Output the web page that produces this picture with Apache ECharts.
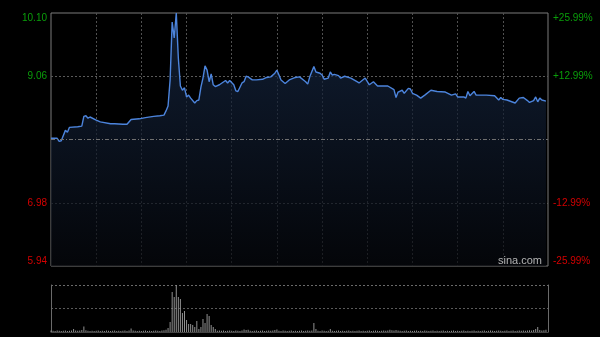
<!DOCTYPE html>
<html>
<head>
<meta charset="utf-8">
<script src="https://cdn.jsdelivr.net/npm/echarts@6/dist/echarts.min.js"></script>
<style>
  html, body { margin: 0; padding: 0; background: #000; }
  #chart { width: 600px; height: 337px; }
</style>
</head>
<body>
<div id="chart"></div>
<script>
// minutes since open (0..242) and last price at that minute
const minutes = [
  0, 3, 4, 5, 7, 8, 9, 13, 15, 16,
  17, 18, 19, 22, 24, 29, 31, 35, 37, 39,
  43, 46, 50, 53, 55, 56, 57, 58, 59, 60,
  61, 62, 63, 64, 65, 66, 67, 68, 70, 71,
  72, 73, 74, 75, 76, 77, 78, 79, 80, 82,
  85, 86, 87, 89, 90, 91, 93, 94, 95, 96,
  98, 100, 103, 105, 107, 109, 110, 111, 112, 114,
  116, 119, 121, 124, 125, 126, 128, 129, 131, 132,
  133, 135, 136, 137, 138, 140, 141, 143, 146, 149,
  150, 153, 155, 157, 159, 164, 167, 168, 169, 171,
  172, 174, 175, 176, 178, 180, 182, 185, 188, 192,
  195, 197, 198, 201, 202, 203, 204, 206, 207, 212,
  216, 218, 219, 220, 222, 226, 228, 230, 232, 233,
  235, 236, 237, 238, 239, 241
];
const prices = [
  8.04, 8.04, 7.99, 8.00, 8.17, 8.14, 8.22, 8.23, 8.24, 8.40,
  8.41, 8.37, 8.39, 8.34, 8.31, 8.28, 8.28, 8.27, 8.27, 8.35,
  8.36, 8.38, 8.40, 8.41, 8.42, 8.49, 8.57, 9.00, 9.95, 9.69,
  10.10, 9.36, 8.90, 8.83, 8.87, 8.72, 8.75, 8.70, 8.62, 8.66,
  8.67, 8.88, 9.03, 9.23, 9.16, 8.97, 9.10, 8.92, 8.89, 8.92,
  8.99, 8.95, 8.99, 8.92, 8.82, 8.81, 8.95, 8.97, 9.06, 9.05,
  9.00, 9.00, 9.01, 9.04, 9.05, 9.11, 9.16, 9.08, 9.00, 8.94,
  9.00, 9.04, 9.05, 8.97, 8.93, 9.05, 9.22, 9.13, 9.11, 9.08,
  9.01, 9.03, 9.13, 9.08, 9.09, 9.07, 9.03, 9.06, 9.03, 8.97,
  8.95, 9.03, 8.92, 8.97, 8.90, 8.90, 8.84, 8.71, 8.80, 8.83,
  8.78, 8.86, 8.85, 8.78, 8.75, 8.70, 8.75, 8.83, 8.81, 8.80,
  8.75, 8.77, 8.72, 8.72, 8.70, 8.81, 8.74, 8.81, 8.75, 8.75,
  8.74, 8.67, 8.71, 8.68, 8.67, 8.62, 8.70, 8.71, 8.66, 8.63,
  8.66, 8.72, 8.64, 8.70, 8.67, 8.65
];
// volume per minute (index = minute)
const volumes = [
  15, 12, 10, 14, 12, 10, 12, 15, 10, 12,
  14, 30, 15, 12, 14, 20, 55, 18, 12, 10,
  12, 10, 12, 14, 10, 12, 10, 15, 12, 10,
  12, 14, 10, 12, 10, 12, 15, 10, 14, 35,
  15, 12, 10, 12, 10, 12, 14, 10, 12, 10,
  12, 14, 12, 10, 15, 18, 22, 40, 100, 400,
  350, 470, 350, 330, 190, 210, 120, 80, 80, 70,
  50, 110, 30, 50, 130, 90, 180, 160, 70, 50,
  30, 12, 15, 12, 14, 10, 12, 15, 12, 10,
  14, 12, 10, 15, 25, 20, 22, 12, 10, 12,
  14, 10, 12, 15, 10, 12, 14, 12, 15, 20,
  25, 12, 10, 14, 12, 10, 12, 14, 10, 12,
  10, 12, 14, 10, 12, 15, 12, 14, 90, 30,
  12, 10, 14, 12, 10, 12, 30, 12, 10, 12,
  14, 10, 12, 10, 12, 14, 10, 12, 10, 12,
  14, 10, 12, 10, 12, 14, 10, 12, 14, 12,
  10, 12, 14, 12, 15, 22, 18, 15, 20, 14,
  12, 10, 12, 14, 10, 12, 10, 12, 14, 10,
  12, 10, 14, 12, 10, 12, 14, 10, 12, 10,
  12, 14, 10, 12, 10, 12, 14, 10, 12, 10,
  12, 14, 10, 12, 10, 12, 14, 10, 12, 10,
  12, 14, 10, 12, 15, 12, 10, 12, 14, 12,
  10, 12, 14, 10, 12, 14, 10, 12, 14, 12,
  15, 12, 14, 18, 15, 20, 30, 50, 20, 15,
  18, 22
];
const priceLabels = ["5.94", "6.98", "", "9.06", "10.10"];
const pctLabels = ["-25.99%", "-12.99%", "", "+12.99%", "+25.99%"];
const priceBase = 5.94;
const prevClose = 8.02;

const toCents = (p) => Math.round((p - priceBase) * 100);
const tickIdx = (v) => Math.round(Number(v) / 104);
const labelColor = (v) => (Number(v) > 208 ? "#0a9e0a" : "#d40000");
const font = "Liberation Sans, Arial, sans-serif";

const chart = echarts.init(document.getElementById("chart"), null, { renderer: "canvas" });

const option = {
  backgroundColor: "#000",
  animation: false,
  grid: [
    { left: 51, top: 13, width: 497, height: 253, show: true, borderColor: "#7a7a7a", borderWidth: 1, backgroundColor: "transparent" },
    { left: 51, top: 285, width: 497, height: 47, show: false },
  ],
  xAxis: [
    {
      type: "value", gridIndex: 0, min: 0, max: 242, interval: 22,
      axisLine: { show: false }, axisTick: { show: false }, axisLabel: { show: false },
      splitLine: {
        show: true,
        lineStyle: {
          type: [2, 2], width: 1,
          color: ["transparent", "#505050", "#505050", "#505050", "#505050", "#505050",
                  "#505050", "#505050", "#505050", "#505050", "#505050", "transparent"],
        },
      },
    },
    {
      type: "value", gridIndex: 1, min: 0, max: 242,
      axisLine: { show: true, lineStyle: { color: "#444" } },
      axisTick: { show: false }, axisLabel: { show: false }, splitLine: { show: false },
    },
  ],
  yAxis: [
    {
      type: "value", gridIndex: 0, min: 0, max: 416, interval: 104,
      axisLine: { show: false }, axisTick: { show: false },
      axisLabel: {
        margin: 4, fontSize: 10, fontFamily: font,
        formatter: (v) => priceLabels[tickIdx(v)],
        color: labelColor,
        verticalAlignMinLabel: "bottom", verticalAlignMaxLabel: "top",
      },
      splitLine: {
        show: true,
        lineStyle: { type: [2, 2], width: 1, color: ["transparent", "#5a5a5a", "transparent", "#5a5a5a", "transparent"] },
      },
    },
    {
      type: "value", gridIndex: 0, position: "right", min: 0, max: 416, interval: 104,
      axisLine: { show: false }, axisTick: { show: false },
      axisLabel: {
        margin: 5, fontSize: 10, fontFamily: font,
        formatter: (v) => pctLabels[tickIdx(v)],
        color: labelColor,
        verticalAlignMinLabel: "bottom", verticalAlignMaxLabel: "top",
      },
      splitLine: { show: false },
    },
    {
      type: "value", gridIndex: 1, min: 0, max: 470, interval: 235,
      axisLine: { show: true, lineStyle: { color: "#6a6a6a" } },
      axisTick: { show: false }, axisLabel: { show: false },
      splitLine: { show: true, lineStyle: { type: [2, 2], color: ["transparent", "#5a5a5a", "#6a6a6a"] } },
    },
    {
      type: "value", gridIndex: 1, position: "right", min: 0, max: 470,
      axisLine: { show: true, lineStyle: { color: "#6a6a6a" } },
      axisTick: { show: false }, axisLabel: { show: false }, splitLine: { show: false },
    },
  ],
  graphic: [
    {
      type: "text", left: 498, top: 255, z: 100,
      style: { text: "sina.com", fill: "#b4b4b4", font: "11px " + font },
    },
  ],
  series: [
    {
      type: "line", xAxisIndex: 0, yAxisIndex: 0,
      data: minutes.map((m, i) => [m, toCents(prices[i])]),
      showSymbol: false, symbol: "none",
      lineStyle: { color: "#4c84dc", width: 1.4 },
      areaStyle: {
        origin: "start",
        color: new echarts.graphic.LinearGradient(0, 0, 0, 1, [
          { offset: 0, color: "#172a48" },
          { offset: 1, color: "#06080d" },
        ]),
      },
      markLine: {
        silent: true, symbol: "none", label: { show: false },
        lineStyle: { color: "#707070", type: [4, 2, 1, 2], width: 1 },
        data: [{ yAxis: toCents(prevClose) }],
      },
      z: 3,
    },
    {
      type: "bar", xAxisIndex: 1, yAxisIndex: 2,
      data: volumes.map((v, i) => [i, v]),
      barWidth: 1,
      itemStyle: { color: "#919191" },
    },
  ],
};

chart.setOption(option);
</script>
</body>
</html>
